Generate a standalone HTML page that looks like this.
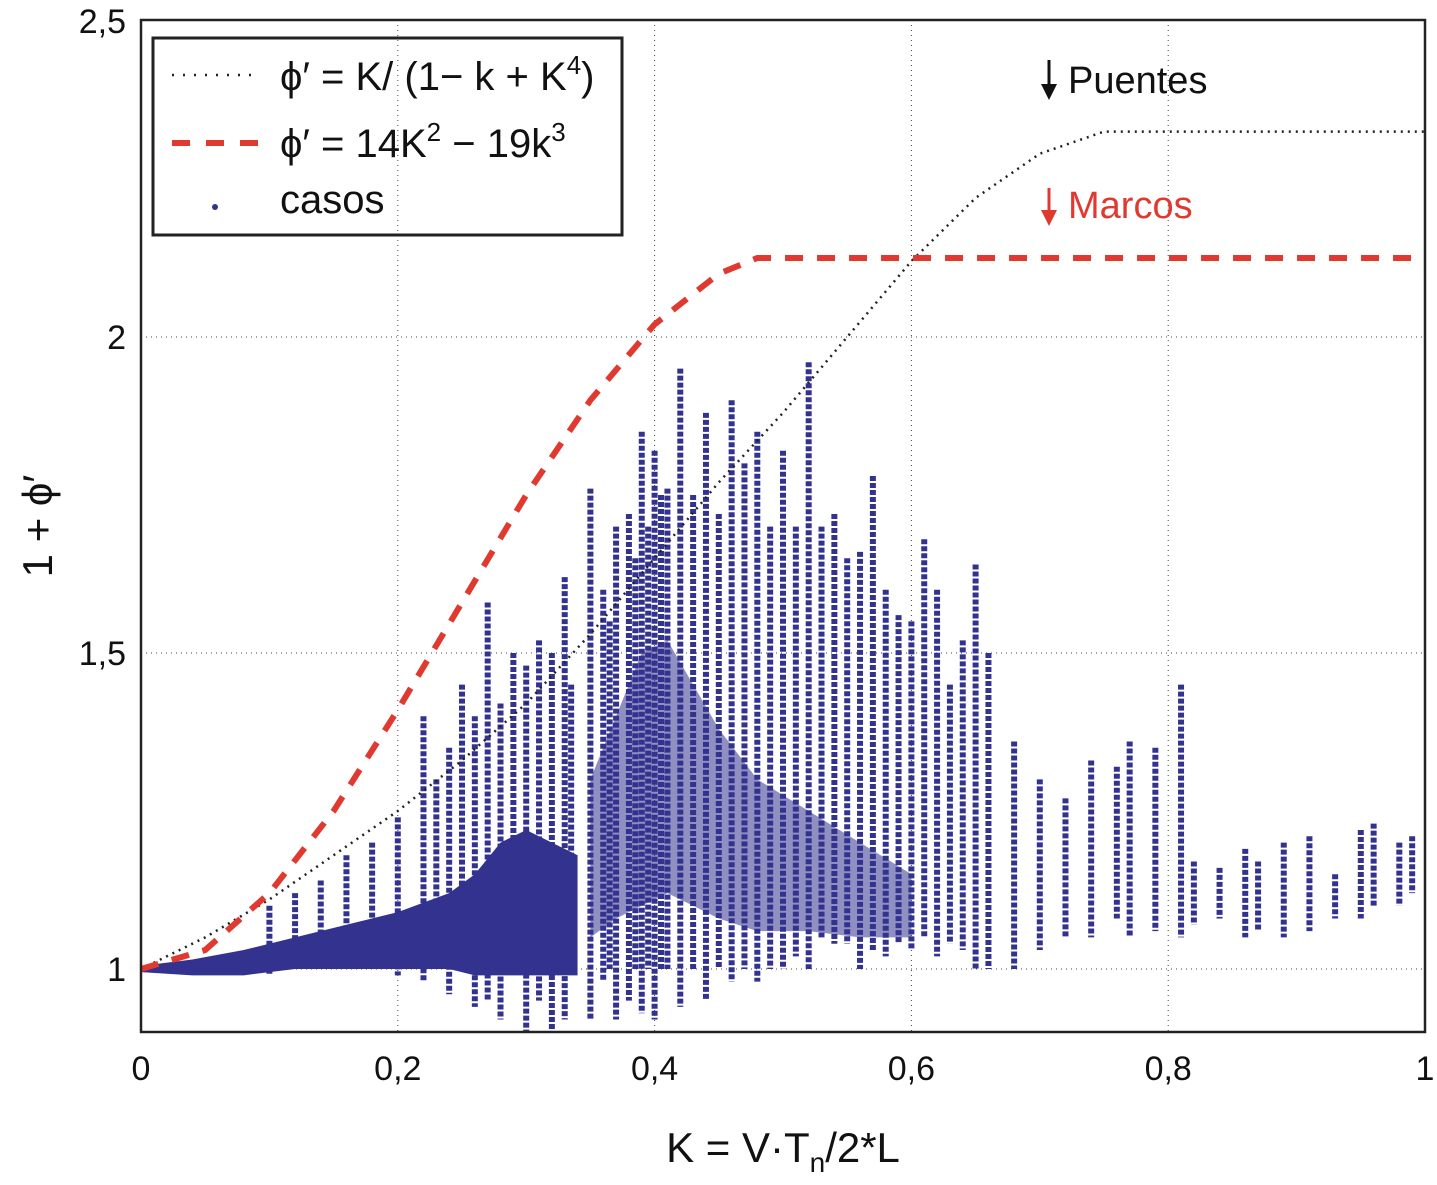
<!DOCTYPE html>
<html><head><meta charset="utf-8"><style>
body{margin:0;background:#fff}
svg{display:block;font-family:"Liberation Sans",sans-serif}
</style></head><body>
<svg id="chart" width="1437" height="1185" viewBox="0 0 1437 1185" xmlns="http://www.w3.org/2000/svg">
<g id="grid"></g>
<g id="band"></g>
<g id="dots"></g>
<g id="lines"></g>
<rect x="141" y="20" width="1284" height="1012" fill="none" stroke="#222" stroke-width="2.5"/>
<g id="ticks" font-size="34" fill="#111"></g>
<text x="783" y="1162" font-size="42" text-anchor="middle" fill="#111">K = V·T<tspan font-size="28" dy="10">n</tspan><tspan dy="-10">/2*L</tspan></text>
<text transform="translate(52,526) rotate(-90)" font-size="42" text-anchor="middle" fill="#111">1 + ϕ′</text>
<g>
<rect x="153" y="38" width="469" height="197" fill="none" stroke="#222" stroke-width="3"/>
<line x1="172" y1="75" x2="255" y2="75" stroke="#222" stroke-width="2.5" stroke-dasharray="2,9"/>
<text x="280" y="90" font-size="40" fill="#111">ϕ′ = K/ (1− k + K<tspan font-size="26" dy="-16">4</tspan><tspan dy="16">)</tspan></text>
<line x1="172" y1="143" x2="258" y2="143" stroke="#e03a30" stroke-width="6" stroke-dasharray="18,16"/>
<text x="280" y="157" font-size="40" fill="#111">ϕ′ = 14K<tspan font-size="26" dy="-16">2</tspan><tspan dy="16"> − 19k</tspan><tspan font-size="26" dy="-16">3</tspan></text>
<circle cx="215" cy="207" r="3" fill="#33338f"/>
<text x="280" y="213" font-size="40" fill="#111">casos</text>
</g>
<g>
<line x1="1049" y1="60" x2="1049" y2="95" stroke="#111" stroke-width="3"/>
<polygon points="1041,84 1057,84 1049,100" fill="#111"/>
<text x="1068" y="93" font-size="38" fill="#111">Puentes</text>
</g>
<g>
<line x1="1049" y1="188" x2="1049" y2="220" stroke="#e03a30" stroke-width="3"/>
<polygon points="1041,210 1057,210 1049,226" fill="#e03a30"/>
<text x="1068" y="218" font-size="38" fill="#e03a30">Marcos</text>
</g>
</svg>
<script>
const xTicks=[0,0.2,0.4,0.6,0.8,1];
const xTickLabels=["0","0,2","0,4","0,6","0,8","1"];
const yTicks=[1,1.5,2,2.5];
const yTickLabels=["1","1,5","2","2,5"];
const puentesK=[0,0.05,0.1,0.15,0.2,0.25,0.3,0.35,0.4,0.45,0.5,0.55,0.6,0.65,0.7,0.75,1];
const puentesY=[1,1.05,1.11,1.18,1.25,1.33,1.42,1.53,1.65,1.77,1.88,2.0,2.12,2.22,2.29,2.325,2.325];
const marcosK=[0,0.05,0.1,0.15,0.2,0.25,0.3,0.35,0.4,0.45,0.48,1];
const marcosY=[1,1.03,1.12,1.25,1.41,1.58,1.75,1.90,2.02,2.10,2.125,2.125];
const bandK=[0,0.04,0.08,0.12,0.16,0.2,0.24,0.26,0.28,0.3,0.32,0.34];
const bandLo=[0.995,0.99,0.99,1.0,1.0,1.0,1.0,0.99,0.99,0.99,0.99,0.99];
const bandHi=[1.005,1.015,1.03,1.05,1.07,1.09,1.12,1.15,1.2,1.22,1.2,1.18];
const coreK=[0.35,0.37,0.39,0.41,0.43,0.45,0.48,0.52,0.56,0.6];
const coreLo=[1.05,1.08,1.1,1.12,1.1,1.08,1.06,1.06,1.05,1.05];
const coreHi=[1.3,1.4,1.5,1.52,1.45,1.38,1.3,1.25,1.2,1.15];
const colK=[0.1,0.12,0.14,0.16,0.18,0.2,0.22,0.23,0.24,0.25,0.26,0.27,0.28,0.29,0.3,0.31,0.32,0.33,0.335,0.35,0.36,0.365,0.37,0.38,0.385,0.39,0.395,0.40,0.405,0.41,0.42,0.43,0.44,0.45,0.46,0.47,0.48,0.49,0.50,0.51,0.52,0.53,0.54,0.55,0.56,0.57,0.58,0.59,0.60,0.61,0.62,0.63,0.64,0.65,0.66,0.68,0.70,0.72,0.74,0.76,0.77,0.79,0.81,0.82,0.84,0.86,0.87,0.89,0.91,0.93,0.95,0.96,0.98,0.99];
const colLo=[0.99,1.0,1.0,1.0,1.0,0.99,0.98,1.0,0.96,1.0,0.94,0.95,0.92,1.0,0.9,0.95,0.9,0.92,1.0,0.92,0.98,1.0,0.92,0.95,1.0,0.93,1.0,0.92,1.0,1.0,0.94,1.0,0.95,1.0,0.98,1.0,0.98,1.0,1.0,1.02,1.0,1.05,1.04,1.04,1.0,1.03,1.02,1.04,1.03,1.05,1.02,1.04,1.03,1.0,1.0,1.0,1.03,1.05,1.05,1.08,1.05,1.06,1.05,1.07,1.08,1.05,1.06,1.05,1.06,1.08,1.08,1.1,1.1,1.12];
const colHi=[1.1,1.12,1.14,1.18,1.2,1.24,1.4,1.3,1.35,1.45,1.4,1.58,1.42,1.5,1.48,1.52,1.5,1.62,1.45,1.76,1.6,1.55,1.7,1.72,1.65,1.85,1.7,1.82,1.75,1.76,1.95,1.75,1.88,1.72,1.90,1.8,1.85,1.7,1.82,1.7,1.96,1.7,1.72,1.65,1.66,1.78,1.6,1.56,1.55,1.68,1.6,1.45,1.52,1.64,1.5,1.36,1.3,1.27,1.33,1.32,1.36,1.35,1.45,1.17,1.16,1.19,1.17,1.2,1.21,1.15,1.22,1.23,1.2,1.21];
const NS="http://www.w3.org/2000/svg";
const X=k=>141+k*1284;
const Y=v=>969-(v-1)*632;
function mk(tag,parent,attrs){const e=document.createElementNS(NS,tag);for(const a in attrs)e.setAttribute(a,attrs[a]);document.getElementById(parent).appendChild(e);return e;}
xTicks.forEach((t,i)=>{
  if(i>0&&i<xTicks.length-1){const g=mk('line','grid',{x1:X(t),x2:X(t),y1:20,y2:1032,stroke:'#444','stroke-width':1,'stroke-dasharray':'1,4'});
  
  }
  const tk=mk('text','ticks',{x:X(t),y:1080,'text-anchor':'middle'});tk.textContent=xTickLabels[i];
  
  
});
yTicks.forEach((t,i)=>{
  if(t<2.5){const g=mk('line','grid',{x1:141,x2:1425,y1:Y(t),y2:Y(t),stroke:'#444','stroke-width':1,'stroke-dasharray':'1,4'});
  
  }
  const tk=mk('text','ticks',{x:126,y:Y(t)+12,'text-anchor':'end'});tk.textContent=yTickLabels[i];
  
  
});
const bandTop=bandK.map((k,i)=>X(k)+','+Y(bandHi[i])).join(' ');
const bandBot=bandK.map((k,i)=>X(k)+','+Y(bandLo[i])).reverse().join(' ');
const b=mk('polygon','band',{points:bandTop+' '+bandBot,fill:'#33338f'});


const coreTop=coreK.map((k,i)=>X(k)+','+Y(coreHi[i])).join(' ');
const coreBot=coreK.map((k,i)=>X(k)+','+Y(coreLo[i])).reverse().join(' ');
const c=mk('polygon','band',{points:coreTop+' '+coreBot,fill:'#33338f','fill-opacity':0.55});


colK.forEach((k,i)=>{
  const y1=Y(colHi[i]),y2=Y(Math.max(colLo[i],0.9));
  const l=mk('line','dots',{x1:X(k),x2:X(k),y1:y1,y2:y2,stroke:'#33338f','stroke-width':6,'stroke-dasharray':'5,2','stroke-linecap':'butt'});
  
  
});
const p1=mk('polyline','lines',{points:puentesK.map((k,i)=>X(k)+','+Y(puentesY[i])).join(' '),fill:'none',stroke:'#222','stroke-width':2.5,'stroke-dasharray':'2,5'});


const p2=mk('polyline','lines',{points:marcosK.map((k,i)=>X(k)+','+Y(marcosY[i])).join(' '),fill:'none',stroke:'#e03a30','stroke-width':6,'stroke-dasharray':'18,14'});


</script>
</body></html>
